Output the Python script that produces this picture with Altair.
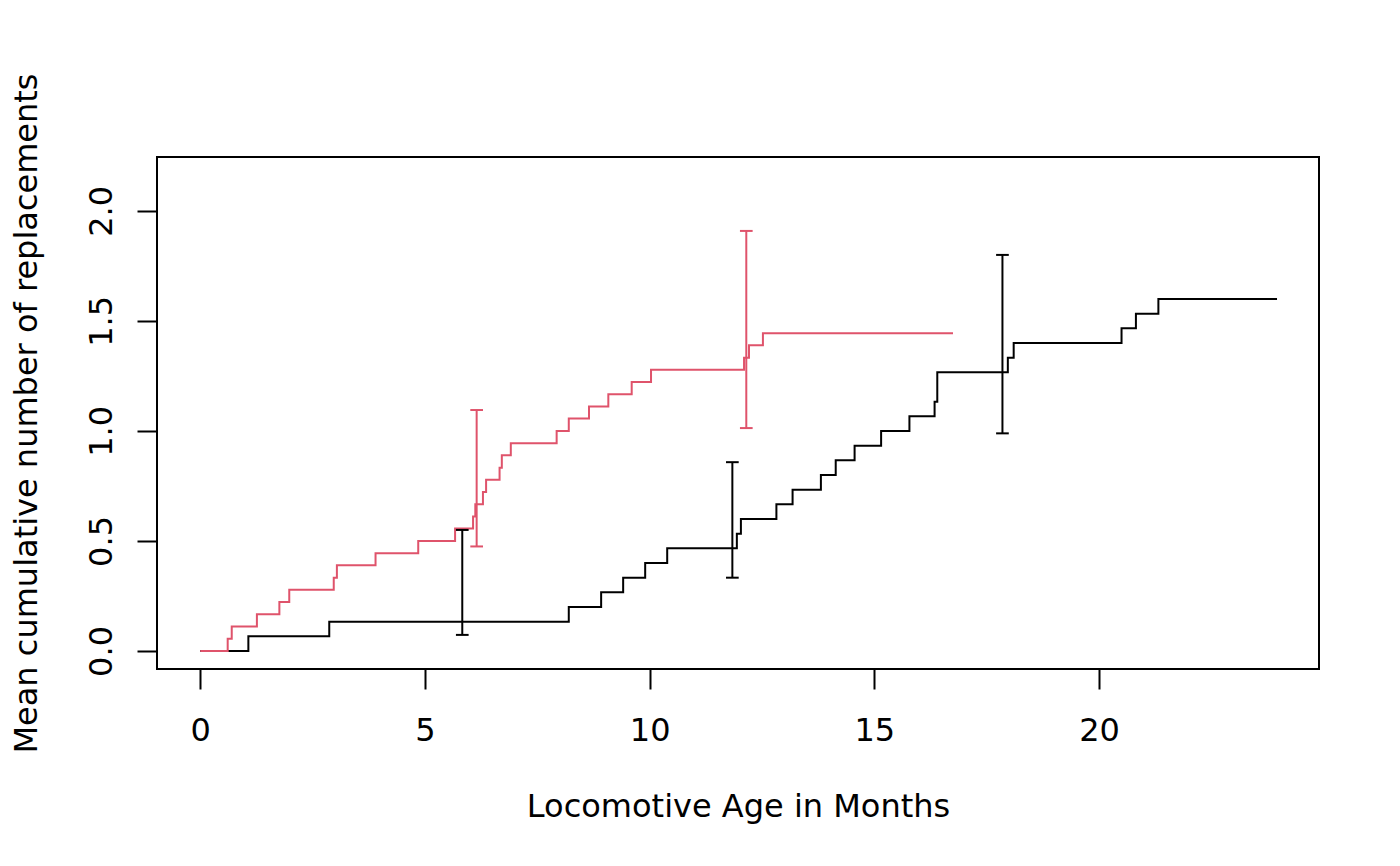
import altair as alt
import pandas as pd

# Mean cumulative function, group 1 (black) - steps of 1/15
black_x = [0, 1.07, 2.87, 8.20, 8.92, 9.41, 9.90, 10.39, 11.94, 12.03, 12.82, 13.18,
           13.81, 14.14, 14.56, 15.15, 15.78, 16.34, 16.40, 17.97, 18.10, 20.50,
           20.82, 21.32, 23.96]
black_y = [0, 0.067, 0.133, 0.200, 0.267, 0.333, 0.400, 0.467, 0.533, 0.600, 0.667,
           0.733, 0.800, 0.867, 0.933, 1.000, 1.067, 1.133, 1.267, 1.333, 1.400,
           1.467, 1.533, 1.600, 1.600]

# Mean cumulative function, group 2 (red) - steps of 1/18
red_x = [0, 0.61, 0.70, 1.26, 1.76, 1.98, 2.97, 3.04, 3.90, 4.85, 5.67, 6.07, 6.12,
         6.29, 6.36, 6.66, 6.71, 6.91, 7.93, 8.20, 8.65, 9.08, 9.60, 10.03, 12.10,
         12.21, 12.52, 16.75]
red_y = [0, 0.056, 0.111, 0.167, 0.222, 0.278, 0.333, 0.389, 0.444, 0.500, 0.556,
         0.611, 0.667, 0.722, 0.778, 0.833, 0.889, 0.944, 1.000, 1.056, 1.111,
         1.167, 1.222, 1.278, 1.333, 1.389, 1.444, 1.444]

# Confidence interval bars
black_ci_x = [5.83, 11.84, 17.85]
black_ci_lo = [0.073, 0.333, 0.989]
black_ci_hi = [0.550, 0.858, 1.800]
red_ci_x = [6.15, 12.15]
red_ci_lo = [0.475, 1.013]
red_ci_hi = [1.095, 1.909]

x_ticks = [0, 5, 10, 15, 20]
y_ticks = [0.0, 0.5, 1.0, 1.5, 2.0]

BLACK = "#000000"
RED = "#DF536B"
FONT = "DejaVu Sans"
FS = 32
LW = 2

black_df = pd.DataFrame({"x": black_x, "y": black_y})
red_df = pd.DataFrame({"x": red_x, "y": red_y})
black_ci = pd.DataFrame({"x": black_ci_x, "lo": black_ci_lo, "hi": black_ci_hi})
red_ci = pd.DataFrame({"x": red_ci_x, "lo": red_ci_lo, "hi": red_ci_hi})

xscale = alt.Scale(domain=[-0.963, 24.894], nice=False, zero=False)
yscale = alt.Scale(domain=[-0.082, 2.245], nice=False, zero=False)

xaxis = alt.Axis(values=x_ticks, title="Locomotive Age in Months", grid=False,
                 domain=False, tickSize=20, tickWidth=2, tickColor="black",
                 labelFont=FONT, labelFontSize=FS, labelColor="black",
                 labelBaseline="alphabetic", labelPadding=51, labelFlush=False,
                 labelOverlap=False, titleFont=FONT, titleFontSize=FS,
                 titleFontWeight="normal", titleColor="black",
                 titleX=581, titleY=147, titleBaseline="alphabetic",
                 titleAlign="center")
yaxis = alt.Axis(values=y_ticks, format=".1f",
                 title="Mean cumulative number of replacements", grid=False,
                 domain=False, tickSize=20, tickWidth=2, tickColor="black",
                 labelFont=FONT, labelFontSize=FS, labelColor="black",
                 labelAngle=270, labelAlign="center", labelBaseline="alphabetic",
                 labelPadding=26, labelFlush=False, labelOverlap=False,
                 titleFont=FONT, titleFontSize=FS, titleFontWeight="normal",
                 titleColor="black", titleAngle=270, titleX=-121, titleY=256,
                 titleBaseline="alphabetic", titleAlign="center")

X = lambda f: alt.X(f, type="quantitative", scale=xscale, axis=xaxis)
Y = lambda f: alt.Y(f, type="quantitative", scale=yscale, axis=yaxis)


def steps(df, color):
    return alt.Chart(df).mark_line(interpolate="step-after", color=color,
                                   strokeWidth=LW).encode(x=X("x"), y=Y("y"))


def ci(df, color):
    rule = alt.Chart(df).mark_rule(color=color, strokeWidth=LW).encode(
        x=X("x"), y=Y("lo"), y2="hi")
    cap_lo = alt.Chart(df).mark_point(shape="M-1,0L1,0", size=161, filled=False,
                                      color=color, strokeWidth=LW, opacity=1).encode(
        x=X("x"), y=Y("lo"))
    cap_hi = alt.Chart(df).mark_point(shape="M-1,0L1,0", size=161, filled=False,
                                      color=color, strokeWidth=LW, opacity=1).encode(
        x=X("x"), y=Y("hi"))
    return [rule, cap_lo, cap_hi]


chart = alt.layer(
    steps(black_df, BLACK),
    steps(red_df, RED),
    *ci(black_ci, BLACK),
    *ci(red_ci, RED),
).properties(
    width=1162, height=512,
    autosize=alt.AutoSizeParams(type="none"),
    padding={"left": 149, "top": 149, "right": 60, "bottom": 180},
    background="white",
).configure_view(stroke="black", strokeWidth=2)

chart.save("out.html", embed_options={"renderer": "svg", "actions": False})
